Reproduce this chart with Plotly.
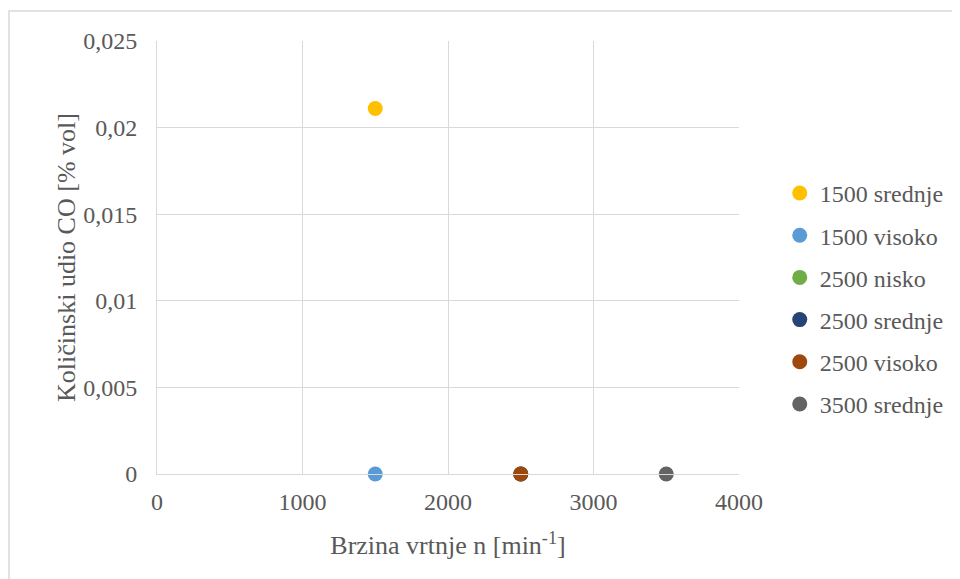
import plotly.graph_objects as go

series_names = ["1500 srednje", "1500 visoko", "2500 nisko", "2500 srednje", "2500 visoko", "3500 srednje"]
speed_values = [1500, 1500, 2500, 2500, 2500, 3500]
co_values = [0.0211, 0.0, 0.0, 0.0, 0.0, 0.0]
series_colors = ["#FFC000", "#5B9BD5", "#70AD47", "#264478", "#9E480E", "#636363"]

x_tick_vals = [0, 1000, 2000, 3000, 4000]
x_tick_text = ["0", "1000", "2000", "3000", "4000"]
y_tick_vals = [0, 0.005, 0.01, 0.015, 0.02, 0.025]
y_tick_text = ["0", "0,005", "0,01", "0,015", "0,02", "0,025"]

FONT = "Liberation Serif"
TXT = "#595959"
GRID = "#d9d9d9"

fig = go.Figure()
for name, xv, yv, c in zip(series_names, speed_values, co_values, series_colors):
    fig.add_trace(go.Scatter(
        x=[xv], y=[yv], name=name, mode="markers", legendgroup=name,
        marker=dict(color=c, size=15),
        cliponaxis=False,
    ))

fig.update_layout(
    width=952, height=571,
    margin=dict(l=149, r=221, t=33, b=105, autoexpand=False),
    paper_bgcolor="white", plot_bgcolor="white",
    font=dict(family=FONT, color=TXT, size=24),
    showlegend=True,
    legend=dict(
        x=1.070, y=0.70, xanchor="left", yanchor="top",
        font=dict(family=FONT, size=24, color=TXT),
        tracegroupgap=8, itemwidth=30,
        bgcolor="rgba(0,0,0,0)",
    ),
    xaxis=dict(
        range=[0, 4000], tickvals=x_tick_vals, ticktext=x_tick_text,
        showgrid=True, gridcolor=GRID, gridwidth=1,
        zeroline=False, showline=True, linecolor=GRID, mirror=False,
        ticks="", ticklabelstandoff=6, tickfont=dict(family=FONT, size=24, color=TXT),
        title=dict(text="Brzina vrtnje n [min<sup>-1</sup>]", font=dict(family=FONT, size=26, color=TXT), standoff=22),
        fixedrange=True, automargin=False,
    ),
    yaxis=dict(
        range=[0, 0.025], tickvals=y_tick_vals, ticktext=y_tick_text,
        showgrid=True, gridcolor=GRID, gridwidth=1,
        zeroline=False, showline=True, linecolor=GRID,
        ticks="", ticklabelstandoff=14, tickfont=dict(family=FONT, size=24, color=TXT),
        title=dict(text="Količinski udio CO [% vol]", font=dict(family=FONT, size=26, color=TXT), standoff=0),
        fixedrange=True, automargin=False,
    ),
)

# outer chart border (page x=8.5 .. beyond right edge)
fig.add_shape(type="rect", xref="paper", yref="paper",
              x0=(9 - 157) / 582, x1=(965 - 157) / 582,
              y0=(474 - 590) / 433, y1=(474 - 11) / 433,
              line=dict(color=GRID, width=1.5), layer="below")

fig.write_html("out.html")
